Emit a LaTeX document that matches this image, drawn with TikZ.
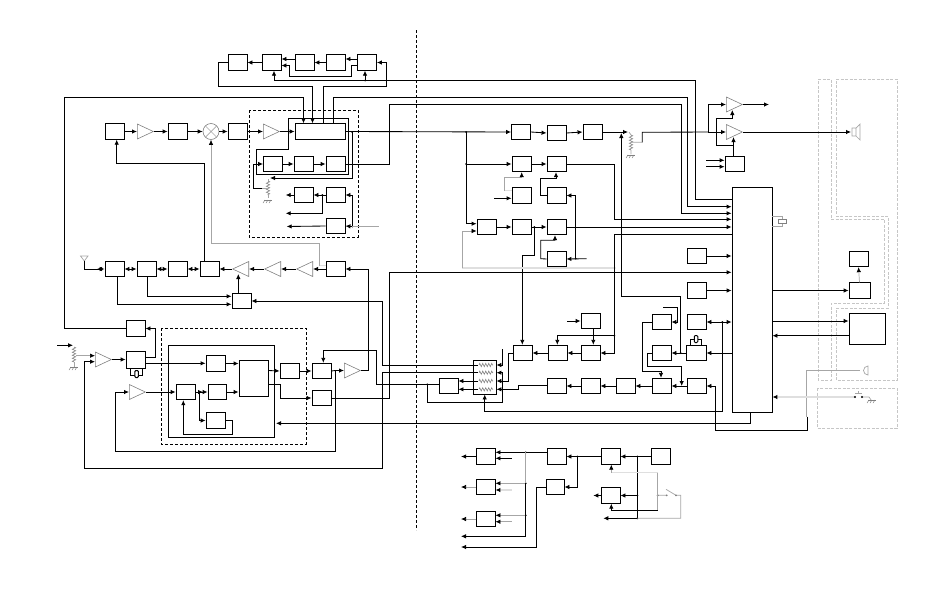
\documentclass[tikz,border=0pt]{standalone}
\usetikzlibrary{arrows.meta,shapes.geometric,decorations.pathmorphing}
\tikzset{
  >={Latex[length=5pt,width=4.5pt,color=black]},
  gnd/.pic={
    \draw[gray,line width=.5pt] (-4,0)--(4,0);
    \foreach \i in {-3,0,3} \draw[gray,line width=.5pt] (\i,0)--+(-2,3);
  },
}
\tikzstyle{wire}=[line width=.85pt]
\tikzstyle{sig}=[wire,->]
\tikzstyle{dsig}=[wire,<->]
\tikzstyle{gwire}=[line width=.7pt,gray!70]
\tikzstyle{pale}=[line width=1.3pt,gray!25]
\tikzstyle{blk}=[draw,line width=.85pt,inner sep=0,minimum width=19pt,minimum height=15.5pt]
\tikzstyle{ampr}=[draw=gray,line width=.6pt,shape=isosceles triangle,isosceles triangle stretches,inner sep=0,minimum width=15pt,minimum height=16pt,anchor=lower side]
\tikzstyle{ampl}=[ampr,shape border rotate=180]
\tikzstyle{xtal}=[draw,fill=white,line width=1pt,rounded corners=1pt,inner sep=0,minimum width=3.5pt,minimum height=7pt]
\tikzstyle{res}=[gray,line width=.6pt,decorate,decoration={zigzag,segment length=3pt,amplitude=1.6pt}]
\tikzstyle{zone}=[line width=.85pt,dash pattern=on 3pt off 2pt]
\tikzstyle{shield}=[line width=1pt,gray!45,dash pattern=on 3pt off 1.5pt]

\begin{document}
\begin{tikzpicture}[x=1pt,y=-1pt]
  \useasboundingbox (0,0) rectangle (927,600);
  % dashed zones
  \draw[zone] (416.7,30)--(416.7,530);
  \draw[zone] (249,110) rectangle (358,237);
  \draw[zone] (161,328) rectangle (306,444);
  \draw[shield] (818,79)--(831,79)--(831,219)--(884,219)--(884,303)--(831,303)--(831,380)--(818,380)--cycle;
  \draw[shield] (836,79)--(897,79)--(897,380)--(836,380)--(836,308)--(888,308)--(888,216)--(836,216)--cycle;
  \draw[shield] (817,388) rectangle (897,428);
  \draw[wire] (168,345) rectangle (274,437);

  % upper left
  \node[blk] (t1) at (237.5,62.5) {};
  \node[blk] (t2) at (271.5,62.5) {};
  \node[blk] (t3) at (304.5,62.5) {};
  \node[blk] (t4) at (335.5,62.5) {};
  \node[blk] (t5) at (367,62.5) {};
  \node[blk] (a1) at (114.5,131.5) {};
  \node[ampr] (amp1) at (137,131.5) {};
  \node[blk] (a2) at (177.5,131.5) {};
  \node[draw=gray,line width=.6pt,circle,inner sep=0,minimum size=16pt] (mix) at (211,131.5) {};
  \draw[gwire] (mix.north west)--(mix.south east) (mix.north east)--(mix.south west);
  \node[blk] (a3) at (237.5,131.5) {};
  \node[ampr] (amp2) at (263,131.5) {};
  \node[blk,minimum width=50pt] (a4) at (320,131.5) {};
  \node[blk] (b1) at (273,164) {};
  \node[blk] (b2) at (303.5,164) {};
  \node[blk] (b3) at (335.5,164) {};
  \node[blk] (c1) at (303.5,195) {};
  \node[blk] (c2) at (335.5,195) {};
  \node[blk] (d1) at (335.5,226) {};
  \node[blk] (e1) at (114.5,269) {};
  \node[blk] (e2) at (146.5,269) {};
  \node[blk] (e3) at (177.5,269) {};
  \node[blk] (e4) at (209.5,269) {};
  \node[ampl] (amp3) at (249,269) {};
  \node[ampl] (amp4) at (281,269) {};
  \node[ampl] (amp5) at (313,269) {};
  \node[blk] (e5) at (335.5,269) {};

  % lower left
  \node[blk] (f1) at (241.5,301) {};
  \node[blk] (g1) at (135.5,328.5) {};
  \node[blk,minimum height=17pt] (h1) at (135.5,359.5) {};
  \node[ampr] (amp6) at (95,359.5) {};
  \node[ampr] (amp7) at (129,392) {};
  \node[blk] (i1) at (215.5,363.5) {};
  \node[blk,minimum width=29pt,minimum height=36pt] (i2) at (253.5,378) {};
  \node[blk] (i3) at (185.5,392) {};
  \node[blk,minimum width=18pt] (i4) at (217,392) {};
  \node[blk] (i5) at (215.5,420.5) {};
  \node[blk] (j1) at (289.5,371) {};
  \node[blk] (k1) at (321.5,371) {};
  \node[blk] (l1) at (321.5,398) {};
  \node[ampr] (amp8) at (344,370.5) {};

  % centre column
  \node[blk] (m1) at (521,132) {};
  \node[blk] (m2) at (556.5,133) {};
  \node[blk] (m3) at (592.5,132) {};
  \node[blk] (n1) at (521.5,164) {};
  \node[blk] (n2) at (556.5,164) {};
  \node[blk] (o1) at (521.5,195.5) {};
  \node[blk] (o2) at (556.5,195.5) {};
  \node[blk] (p0) at (486.5,227) {};
  \node[blk] (p1) at (521.5,227) {};
  \node[blk] (p2) at (556.5,227) {};
  \node[blk] (q1) at (556.5,259) {};
  \node[blk,minimum width=23pt,minimum height=34pt] (w1) at (484.5,377) {};
  \node[blk] (w2) at (448.5,386) {};
  \node[blk] (x1) at (522.5,353) {};
  \node[blk] (x2) at (557.5,353) {};
  \node[blk] (x3) at (590.5,353) {};
  \node[blk] (x4) at (590.5,321) {};
  \node[blk] (y1) at (556.5,386) {};
  \node[blk] (y2) at (590.5,386) {};
  \node[blk] (y3) at (625.5,386) {};
  \node[blk] (y4) at (661.5,386) {};
  \node[blk] (z1) at (661.5,322) {};
  \node[blk] (z2) at (661.5,353) {};

  % right side
  \node[blk] (r1) at (696.5,256) {};
  \node[blk] (r2) at (696.5,290.5) {};
  \node[blk] (r3) at (696.5,322) {};
  \node[blk,minimum width=20pt] (r4) at (696,353) {};
  \node[blk] (r5) at (696.5,386) {};
  \node[ampr] (amp9) at (726,104.5) {};
  \node[ampr] (amp10) at (726,132) {};
  \node[blk] (s1) at (734.5,164) {};
  \node[blk,minimum width=40pt,minimum height=225pt] (big) at (752,299.5) {};
  \node[blk] (v1) at (858.5,259) {};
  \node[blk,minimum width=21pt] (v2) at (859.5,290.5) {};
  \node[blk,minimum width=36pt,minimum height=31pt] (v3) at (867,328.5) {};

  % bottom group
  \node[blk] (sa1) at (485.5,456.5) {};
  \node[blk] (sa2) at (485.5,487) {};
  \node[blk] (sa3) at (485.5,519) {};
  \node[blk] (sb1) at (556.5,456.5) {};
  \node[blk,minimum width=18pt] (sb2) at (555,487) {};
  \node[blk] (sc1) at (610.5,456.5) {};
  \node[blk] (sc2) at (610.5,495.5) {};
  \node[blk] (sd1) at (660.5,456.5) {};

  % junctions
  \coordinate (jtop) at (365,80.5);
  \coordinate (ja4) at (352,132);
  \coordinate (jc) at (322.3,195);
  \coordinate (jd) at (352.3,226.5);
  \coordinate (jk) at (335.3,370.5);
  \coordinate (jmain) at (466,132);
  \coordinate (jn) at (466,164);
  \coordinate (jp) at (534.3,227);
  \coordinate (jq) at (575.7,258.7);
  \coordinate (jgr) at (614.3,268);
  \coordinate (jx) at (614.3,335.7);
  \coordinate (jz) at (680.7,353);
  \coordinate (jy) at (681.7,386);
  \coordinate (jr3) at (722.3,322);
  \coordinate (jw) at (427.3,384.3);
  \coordinate (jamp) at (708.3,132);
  \coordinate (jh) at (199.3,392);
  \coordinate (jb) at (525.7,452.3);
  \coordinate (jb2) at (525.7,483.3);
  \coordinate (jb3) at (525.7,515.3);
  \coordinate (js) at (577.3,456.5);
  \coordinate (jt) at (637.3,456.5);
  \coordinate (jt2) at (637.3,495.5);
  \coordinate (jt3) at (637.3,518.3);
  \coordinate (jsw) at (657.7,495.3);
  \foreach \j in {jtop,ja4,jc,jd,jmain,jn,jp,jq,jgr,jx,jz,jr3,jw,jb,jb2,jb3,js,jt,jt2,jt3,jsw}
    \fill (\j) circle (1);

  % upper row connectors
  \draw[sig] (t2.west)--(t1.east);
  \draw[sig] (t1.west) -| (218,86.5)--(312.5,86.5)--(a4.north -| 312.5,0);
  \draw[sig] (t3.west |- 0,59)--(t2.east |- 0,59);
  \draw[sig] (t4.west)--(t3.east);
  \draw[sig] (t5.west |- 0,59)--(t4.east |- 0,59);
  \draw[sig] (t5.west |- 0,65.5)--(351.7,65.5)--(351.7,76.7)--(289,76.7)--(289,65.5)--(t2.east |- 0,65.5);
  \draw[sig] (a4.north -| 323.5,0)--(323.5,86.5)--(386.5,86.5) |- (t5.east);
  \draw[sig] (big.west |- 0,199.3)--(695.7,199.3)--(695.7,80.5)--(274,80.5)--(t2.south -| 274,0);
  \draw[sig] (jtop)--(t5.south -| jtop);
  \draw[sig] (g1.west) -| (64.5,97)--(303.5,97)--(a4.north -| 303.5,0);
  \draw[sig] (a4.north -| 333.5,0)--(333.5,97)--(687.7,97) |- (big.west |- 0,206.7);
  \draw[sig] (b3.east) -| (389.3,104.3)--(681.7,104.3) |- (big.west |- 0,213.3);

  % receive chain
  \draw[sig] (a1.east)--(amp1.lower side);
  \draw[sig] (amp1.apex)--(a2.west);
  \draw[sig] (a2.east)--(mix.west);
  \draw[sig] (mix.east)--(a3.west);
  \draw[sig] (a3.east)--(amp2.lower side);
  \draw[sig] (amp2.apex)--(a4.west);
  \draw[wire] (288.7,118.7)--(348.3,118.7)--(348.3,174.3)--(256.7,174.3)--(256.7,149)--(288.7,149)--cycle;
  \draw[sig] (a4.east)--(m1.west);
  \draw[sig] (ja4)--(352,178)--(270,178);
  \draw[res] (268,181)--(268,195);
  \draw[gwire] (268,179)--(268,181) (268,195)--(268,198) (268,188)--(262,188);
  \pic at (268,200) {gnd};
  \draw[sig] (262,188)--(253,188) |- (b1.west);
  \draw[sig] (b1.east)--(b2.west);
  \draw[sig] (b2.east)--(b3.west);
  \draw[sig] (c2.west)--(c1.east);
  \draw[sig] (c1.west)--(285.7,195);
  \draw[sig] (jc)--(322.3,213.3)--(285.7,213.3);
  \draw[sig] (jd) |- (c2.east);
  \draw[sig] (jd)--(d1.east);
  \draw[gwire] (jd)--(379,226.5);
  \draw[sig] (d1.west)--(286.7,226.5);

  % transmit chain
  \draw[pale] (e5.west |- 0,265.7)--(319.3,265.7);
  \draw[gwire,->] (319.3,265.7)--(319.3,243.3)--(211,243.3)--(mix.south);
  \draw[sig] (e5.west)--(amp5.lower side);
  \draw[sig] (amp5.apex)--(amp4.lower side);
  \draw[sig] (amp4.apex)--(amp3.lower side);
  \draw[sig] (amp3.apex)--(e4.east);
  \draw[dsig] (e4.west)--(e3.east);
  \draw[dsig] (e3.west)--(e2.east);
  \draw[dsig] (e2.west)--(e1.east);
  \draw[gwire] (80.5,256)--(88,256)--(84.3,261)--cycle;
  \coordinate (ant) at (84.3,261);
  \draw[wire] (ant) |- (100,269);
  \draw[dsig] (97,269)--(e1.west);
  \draw[sig] (e4.north -| 204.7,0)--(204.7,163.3)--(116.7,163.3)--(a1.south -| 116.7,0);
  \draw[sig] (e1.south -| 117.7,0)--(117.7,304.3)--(f1.west |- 0,304.3);
  \draw[sig] (e2.south -| 147.3,0)--(147.3,296.3)--(f1.west |- 0,296.3);
  \draw[sig] (f1.north -| 238.3,0)--(238.3,274);
  \draw[sig] (w1.west |- 0,365.3)--(382.7,365.3)--(382.7,301) -- (f1.east);
  \draw[sig] (l1.east)--(389.3,398)--(389.3,272.3)--(big.west |- 0,272.3);
  \draw[sig] (amp8.apex)--(368.3,370.5)--(368.3,269)--(e5.east);

  % lower left connectors
  \draw[sig] (57.3,345.3)--(73,345.3);
  \draw[res] (74,347)--(74,362);
  \draw[gwire] (74,362)--(74,367);
  \pic at (74,367) {gnd};
  \draw[gwire,->] (76,355.7)--(amp6.lower side |- 0,355.7);
  \draw[sig] (amp6.apex)--(h1.west);
  \draw[sig] (h1.east |- 0,357.7)--(155.3,357.7)--(155.3,328.5)--(g1.east);
  \draw[sig] (h1.east |- 0,363.3)--(i1.west |- 0,363.3);
  \draw[wire] (130,368) |- (142,375)--(142,368);
  \node[xtal] (xt1) at (136.7,374) {};
  \draw[sig] (w1.west |- 0,372.7)--(382.7,372.7)--(382.7,468.3)--(84.3,468.3)--(84.3,361.7)--(amp6.lower side |- 0,361.7);
  \draw[sig] (k1.east) -- (jk) -- (amp8.lower side);
  \draw[sig] (jk)--(335.3,451.3)--(115.3,451.3)--(115.3,392)--(amp7.lower side);
  \draw[sig] (amp7.apex)--(i3.west);
  \draw[sig] (i3.east)--(i4.west);
  \draw[sig] (i3.east)--(203,392);
  \draw[sig] (jh) |- (i5.west);
  \draw[sig] (i5.east)--(232.3,420.5)--(232.3,434.7)--(183.3,434.7)--(i3.south -| 183.3,0);
  \draw[sig] (i1.east)--(i2.west |- i1.east);
  \draw[sig] (i4.east)--(i2.west |- i4.east);
  \draw[sig] (i2.east |- 0,370.5)--(j1.west);
  \draw[sig] (j1.east)--(k1.west);
  \draw[sig] (i2.east |- 0,384.3)--(280.3,384.3)--(280.3,398)--(l1.west);
  \draw[sig] (w2.west |- jw)--(376.3,384.3)--(376.3,350)--(323.3,350)--(k1.north -| 323.3,0);
  \draw[sig] (big.south -| 750.7,0)--(750.7,423.3)--(276,423.3);

  % centre connectors
  \draw[wire] (jmain)--(jn);
  \draw[sig] (jn)--(466,223.7)--(p0.west |- 0,223.7);
  \draw[sig] (jn)--(n1.west);
  \draw[sig] (m1.east)--(m2.west);
  \draw[sig] (m2.east)--(m3.west);
  \draw[sig] (m3.east)--(628,132);
  \draw[res] (631,135)--(631,150);
  \draw[gwire] (629,132)--(631,135) (631,150)--(631,154) (631,142.3)--(642.3,142.3);
  \pic at (631,155) {gnd};
  \draw[wire] (642.3,142.3)--(642.3,132.3)--(jamp);
  \draw[sig] (jamp)--(amp10.lower side);
  \draw[sig] (amp10.apex)--(851,132);
  \draw[sig] (jamp) |- (amp9.lower side);
  \draw[sig] (amp9.apex)--(769,104.5);
  \draw[sig] (n1.east)--(n2.west);
  \draw[sig] (n2.east)--(614.3,164)--(614.3,219.3)--(big.west |- 0,219.3);
  \draw[gwire,->] (504.7,190.7)--(504.7,177.3)--(521.7,177.3)--(n1.south -| 521.7,0);
  \draw[pale] (o1.west |- 0,190.7)--(504.7,190.7);
  \draw[sig] (494,198.3)--(o1.west |- 0,198.3);
  \draw[sig] (o2.west)--(540.7,195.5)--(540.7,178.3)--(556,178.3)--(n2.south -| 556,0);
  \draw[sig] (jq)--(575.7,195.5)--(o2.east);
  \draw[sig] (586.7,258.7)--(q1.east);
  \draw[sig] (p0.east)--(p1.west);
  \draw[sig] (p1.east)--(p2.west);
  \draw[sig] (p2.east)--(big.west |- p2.east);
  \draw[sig] (q1.west)--(540.7,258.7)--(540.7,240.3)--(555,240.3)--(p2.south -| 555,0);
  \draw[sig] (jp)--(534.3,255)--(522.3,255)--(x1.north -| 522.3,0);
  \draw[pale] (462.3,268)--(jgr);
  \draw[gwire,->] (462.3,268)--(462.3,231)--(p0.west |- 0,231);
  \draw[sig] (big.west |- 0,234.3)--(614.3,234.3) |- (x3.east);
  \draw[sig] (jx)--(557.3,335.7)--(x2.north -| 557.3,0);
  \draw[sig] (x4.south -| 593.3,0)--(x3.north -| 593.3,0);
  \draw[sig] (567.3,321)--(x4.west);
  \draw[sig] (x3.west)--(x2.east);
  \draw[sig] (x2.west)--(x1.east);
  \draw[sig] (x1.west)--(508.3,353)--(508.3,381)--(w1.east |- 0,381);
  \draw[sig] (502.3,349.3)--(502.3,365)--(w1.east |- 0,365);
  \draw[sig] (y1.west |- 0,385.7)--(518.3,385.7)--(518.3,389.3)--(w1.east |- 0,389.3);
  \draw[sig] (jw)--(427.3,402.3)--(502.3,402.3)--(502.3,372.7)--(w1.east |- 0,372.7);
  \foreach \yy in {365,372.7,381,389.3} {
    \draw[res] (479,\yy)--(493,\yy);
    \draw[wire] (w1.west |- 0,\yy)--(478,\yy);
  }
  \draw[sig] (w1.west |- 0,381)--(w2.east |- 0,381);
  \draw[sig] (w1.west |- 0,389.3)--(w2.east |- 0,389.3);
  \draw[sig] (jr3)--(722.3,411.3)--(484.7,411.3)--(w1.south -| 484.7,0);
  \draw[sig] (y2.west)--(y1.east);
  \draw[sig] (y3.west)--(y2.east);
  \draw[sig] (y4.west)--(y3.east);
  \draw[sig] (r5.west)--(y4.east);
  \draw[sig] (z1.west)--(642.3,322)--(642.3,371.3)--(661,371.3)--(y4.north -| 661,0);
  \draw[sig] (z2.west)--(647.3,353)--(647.3,366.7)--(681.7,366.7)--(jy);
  \draw[sig] (663.3,307.7)--(677.3,307.7)--(677.3,322)--(z1.east);
  \draw[sig] (r4.west)--(z2.east);
  \draw[sig] (jz) |- (621.3,296.3)--(621.3,133);
  \draw[wire] (690.3,345) |- (701.7,339.3)--(701.7,345);
  \node[xtal] (xt2) at (696,339) {};

  % right side connectors
  \draw[sig] (r1.east)--(big.west |- r1.east);
  \draw[sig] (r2.east)--(big.west |- r2.east);
  \draw[sig] (jr3)--(r3.east);
  \draw[sig] (jr3)--(big.west |- r3.east);
  \draw[sig] (big.west |- r4.east)--(r4.east);
  \draw[sig] (807.3,416.7)--(807.3,430.3)--(715.7,430.3) |- (r5.east);
  \draw[sig] (s1.north -| 733.5,0)--(733.5,137);
  \draw[sig] (733.5,145.7)--(716.3,145.7)--(716.3,118.3)--(732.3,118.3)--(732.3,110);
  \draw[sig] (706,160.3)--(s1.west |- 0,160.3);
  \draw[sig] (706,166.7)--(s1.west |- 0,166.7);
  \draw[sig] (big.east |- v2.west)--(v2.west);
  \draw[gwire,->] (v2.north)--(v1.south);
  \draw[sig] (big.east |- 0,321)--(v3.west |- 0,321);
  \draw[sig] (v3.west |- 0,335.7)--(big.east |- 0,335.7);
  \draw[gwire] (big.east |- 0,216)--(782.7,216)--(782.7,226)--(big.east |- 0,226);
  \node[draw=gray,fill=white,line width=.6pt,inner sep=0,minimum width=8pt,minimum height=4pt] (xt3) at (782,221) {};
  \draw[gwire,fill=white] (852,128)--(856,128)--(860,124)--(860,140)--(856,136)--(852,136)--cycle (856,128)--(856,136);
  \draw[gwire] (806.7,416.7)--(806.7,370.3)--(860,370.3);
  \draw[gwire] (868,375) arc (90:270:4.5)--cycle;
  \draw[pale,<-] (big.east |- 0,397)--(855,397);
  \draw[gwire] (862,397)--(869,397)--(871,400);
  \pic at (872,400) {gnd};
  \fill (855,397) circle (1.2) (862,397) circle (1.2);
  \draw[gwire] (855,393.5)--(862,393.5) (858.5,393.5)--(858.5,391);

  % bottom group connectors
  \draw[sig] (sd1.west)--(sc1.east);
  \draw[sig] (sc1.west)--(sb1.east);
  \draw[sig] (js)--(577.3,487) -- (sb2.east);
  \draw[sig] (sb1.west |- jb)--(sa1.east |- jb);
  \draw[sig] (511.7,458.3)--(sa1.east |- 0,458.3);
  \draw[sig] (sa1.west)--(461,456.5);
  \draw[gwire] (jb)--(jb2);
  \draw[gwire,->] (jb2)--(sa2.east |- jb2);
  \draw[pale,->] (511.7,490)--(sa2.east |- 0,490);
  \draw[gwire,->] (sa2.west)--(461,487);
  \draw[wire] (jb2)--(jb3);
  \draw[gwire,->] (jb3)--(sa3.east |- jb3);
  \draw[gwire,->] (511.7,521.7)--(sa3.east |- 0,521.7);
  \draw[gwire,->] (sa3.west)--(461,519);
  \draw[sig] (jb3)--(525.7,536.3)--(461,536.3);
  \draw[sig] (sb2.west)--(536.3,487)--(536.3,547)--(461,547);
  \draw[wire] (jt)--(jt3);
  \draw[sig] (jt2)--(sc2.east);
  \draw[sig] (sc2.west)--(593.3,495.5);
  \draw[sig] (jt3)--(603.3,518.3);
  \draw[pale] (611.3,472.7)--(657.7,472.7);
  \draw[gwire,->] (611.3,472.7)--(sc1.south -| 611.3,0);
  \draw[gwire] (657.7,472.7)--(657.7,510);
  \draw[sig] (657.7,510)--(611.3,510)--(sc2.south -| 611.3,0);
  \draw[gwire] (jsw)--(666.7,495.3) (666,489.3)--(676,495.3)--(680.7,495.3)--(680.7,518.3)--(jt3);
  \fill[gray] (666.7,495.3) circle (1) (676,495.3) circle (1);
\end{tikzpicture}
\end{document}
